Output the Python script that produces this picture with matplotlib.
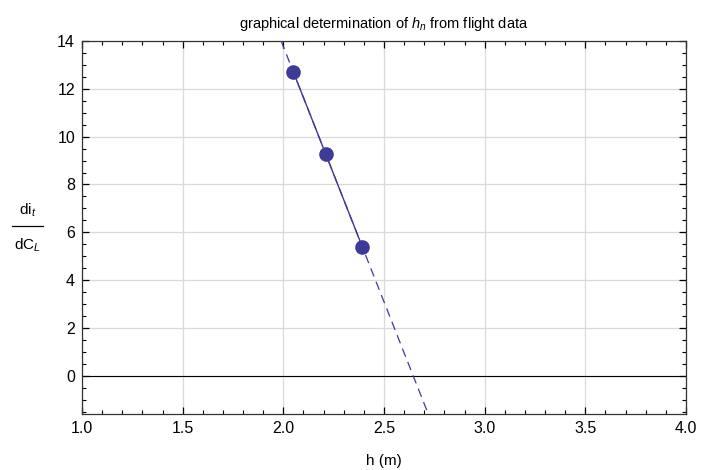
import numpy as np
import matplotlib
matplotlib.use('Agg')
import matplotlib.pyplot as plt
from matplotlib.ticker import MultipleLocator

plt.rcParams['font.family'] = ['Liberation Sans', 'DejaVu Sans']
plt.rcParams['mathtext.fontset'] = 'custom'
plt.rcParams['mathtext.rm'] = 'Liberation Sans'
plt.rcParams['mathtext.it'] = 'Liberation Sans:italic'

# flight data
h_m = [2.048, 2.212, 2.391]
dit_dCL = [12.72, 9.28, 5.40]

x_lim = (1.0, 4.0)
y_lim = (-1.6, 14.0)
col = '#3d3a98'

fig = plt.figure(figsize=(7.01, 4.70), dpi=100)
ax = fig.add_axes([0.117, 0.119, 0.8616, 0.7938])

# least squares line through the points, dashed outside the data range
m, b = np.polyfit(h_m, dit_dCL, 1)
x_top = (y_lim[1] - b) / m
x_bot = (y_lim[0] - b) / m
xs_full = np.array([x_top, x_bot])
ax.plot(xs_full, m * xs_full + b, color=col, lw=0.9, ls=(0, (7, 4.5)), zorder=3)
xs_in = np.array([min(h_m), max(h_m)])
ax.plot(xs_in, m * xs_in + b, color=col, lw=1.0, zorder=4)
ax.plot(h_m, dit_dCL, 'o', color=col, ms=9.5, mec=col, zorder=5)

ax.axhline(0, color='black', lw=0.8, zorder=2)

ax.set_xlim(*x_lim)
ax.set_ylim(*y_lim)
ax.xaxis.set_major_locator(MultipleLocator(0.5))
ax.xaxis.set_minor_locator(MultipleLocator(0.1))
ax.yaxis.set_major_locator(MultipleLocator(2))
ax.yaxis.set_minor_locator(MultipleLocator(0.5))
ax.xaxis.set_major_formatter(matplotlib.ticker.FormatStrFormatter('%.1f'))
ax.grid(True, which='major', color='#d9d9d9', lw=0.9, zorder=0)
ax.set_axisbelow(True)
ax.tick_params(which='both', direction='in', top=True, right=True, labelsize=11.5, colors='black', pad=5)
ax.tick_params(which='major', length=5, width=0.9)
ax.tick_params(which='minor', length=3, width=0.8)
for s in ax.spines.values():
    s.set_linewidth(0.9)
    s.set_color('#333333')

ax.set_xlabel('h (m)', fontsize=11, labelpad=13)
ax.set_title('graphical determination of $h_n$ from flight data', fontsize=10.5, pad=9)

# fraction style y label
fig.text(0.039, 0.553, r'di$_t$', fontsize=11, ha='center', va='center')
fig.text(0.039, 0.479, r'dC$_L$', fontsize=11, ha='center', va='center')
fig.add_artist(plt.Line2D([0.017, 0.0615], [0.520, 0.520], color='black', lw=0.9))

fig.savefig('out.png', dpi=100)
